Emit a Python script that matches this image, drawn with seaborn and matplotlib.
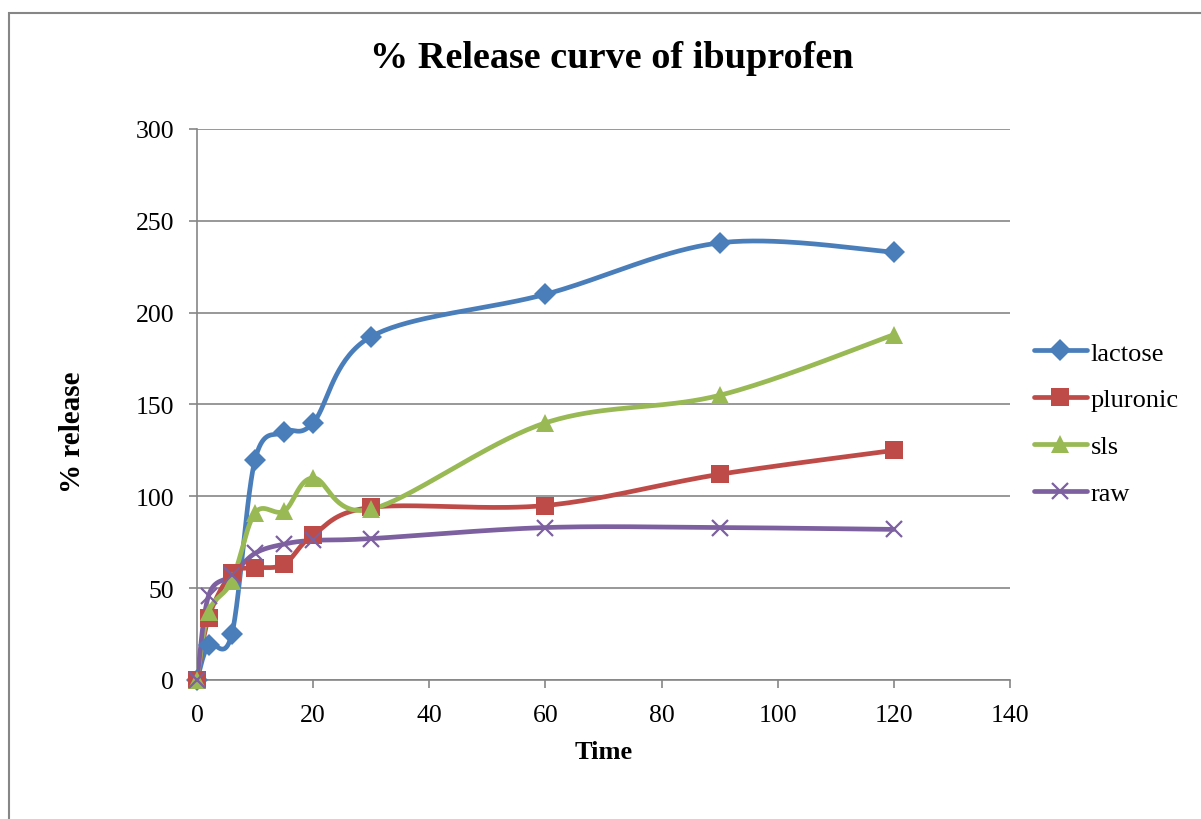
import numpy as np
import pandas as pd
import matplotlib
matplotlib.use("Agg")
import matplotlib.pyplot as plt
import seaborn as sns
from matplotlib.lines import Line2D
from matplotlib.patches import Rectangle

# ---- data ----
time = [0, 2, 6, 10, 15, 20, 30, 60, 90, 120]
lactose = [0, 19, 25, 120, 135, 140, 187, 210, 238, 233]
pluronic = [0, 34, 58, 61, 63, 79, 94, 95, 112, 125]
sls = [0, 37, 54, 91, 92, 110, 93, 140, 155, 188]
raw = [0, 46, 57, 69, 74, 76, 77, 83, 83, 82]
series_names = ["lactose", "pluronic", "sls", "raw"]
series_values = [lactose, pluronic, sls, raw]
x_ticks = [0, 20, 40, 60, 80, 100, 120, 140]
y_ticks = [0, 50, 100, 150, 200, 250, 300]

colors = {"lactose": "#4A7EBB", "pluronic": "#BE4B48", "sls": "#98B954", "raw": "#7D60A0"}
markers = {"lactose": "D", "pluronic": "s", "sls": "^", "raw": "x"}
msizes = {"lactose": 11.5, "pluronic": 12.5, "sls": 13, "raw": 12}

# Excel-style smoothing (Catmull-Rom Bezier in screen scale)
SX, SY = 5.807, 1.8367


def smooth(xs, ys, n=40):
    P = np.column_stack([np.asarray(xs, float) * SX, np.asarray(ys, float) * SY])
    out = []
    m = len(P)
    for i in range(m - 1):
        p0 = P[max(i - 1, 0)]
        p1 = P[i]
        p2 = P[i + 1]
        p3 = P[min(i + 2, m - 1)]
        c1 = p1 + (p2 - p0) / 6.0
        c2 = p2 - (p3 - p1) / 6.0
        t = np.linspace(0, 1, n)[:, None]
        seg = ((1 - t) ** 3) * p1 + 3 * ((1 - t) ** 2) * t * c1 + 3 * (1 - t) * t ** 2 * c2 + t ** 3 * p2
        if i > 0:
            seg = seg[1:]
        out.append(seg)
    S = np.vstack(out)
    return S[:, 0] / SX, S[:, 1] / SY


rows = []
pts = []
for name, vals in zip(series_names, series_values):
    sx, sy = smooth(time, vals)
    for k, (a, b) in enumerate(zip(sx, sy)):
        rows.append({"Time": a, "release": b, "series": name, "order": k})
    for a, b in zip(time, vals):
        pts.append({"Time": a, "release": b, "series": name})
curves = pd.DataFrame(rows)
points = pd.DataFrame(pts)

sns.set_theme(style="white")
plt.rcParams["font.family"] = ["Liberation Serif", "DejaVu Serif"]
plt.rcParams["text.color"] = "black"
plt.rcParams["axes.labelcolor"] = "black"

fig = plt.figure(figsize=(12.01, 8.2), dpi=100)
ax = fig.add_axes([197 / 1201, 1 - 681 / 820, (1010 - 197) / 1201, (681 - 130) / 820])

sns.lineplot(data=curves, x="Time", y="release", hue="series", hue_order=series_names,
             palette=colors, sort=False, estimator=None, units="series", linewidth=3.4,
             legend=False, ax=ax, zorder=3)
for name in series_names:
    sub = points[points["series"] == name]
    if markers[name] == "x":
        ax.plot(sub["Time"], sub["release"], linestyle="none", marker="x", color=colors[name],
                markersize=msizes[name], markeredgewidth=1.6, zorder=4, clip_on=False)
    else:
        ax.plot(sub["Time"], sub["release"], linestyle="none", marker=markers[name],
                color=colors[name], markersize=msizes[name], markeredgewidth=0, zorder=4,
                clip_on=False)

ax.set_xlim(0, 140)
ax.set_ylim(0, 300)
ax.set_xticks(x_ticks)
ax.set_yticks(y_ticks)
ax.tick_params(axis="both", labelsize=18.5, colors="#868686", labelcolor="black",
               direction="out", length=5.5, width=1.2)
ax.tick_params(axis="x", bottom=True, pad=12)
ax.tick_params(axis="y", left=True, pad=11)
ax.grid(axis="y", color="#868686", linewidth=1.2)
ax.grid(axis="x", visible=False)
for s in ["top", "right"]:
    ax.spines[s].set_visible(False)
for s in ["left", "bottom"]:
    ax.spines[s].set_color("#868686")
    ax.spines[s].set_linewidth(1.2)
ax.set_axisbelow(True)

ax.set_xlabel("Time", fontsize=19, fontweight="bold")
ax.set_ylabel("% release", fontsize=21, fontweight="bold")
ax.xaxis.set_label_coords(0.5, -(753 - 681) / 551, transform=ax.transAxes)
ax.yaxis.set_label_coords(-(197 - 72) / 813, (681 - 432) / 551, transform=ax.transAxes)
ax.xaxis.label.set_va("center")
ax.yaxis.label.set_va("center")
fig.text(612 / 1201, 1 - 59 / 820, "% Release curve of ibuprofen", ha="center", va="center",
         fontsize=27.5, fontweight="bold")

handles = []
for name in series_names:
    if markers[name] == "x":
        h = Line2D([0], [0], color=colors[name], linewidth=3.4, marker="x",
                   markersize=msizes[name], markeredgewidth=1.6, solid_capstyle="round")
    else:
        h = Line2D([0], [0], color=colors[name], linewidth=3.4, marker=markers[name],
                   markersize=msizes[name], markeredgewidth=0, solid_capstyle="round")
    handles.append(h)
fig.legend(handles, series_names, loc="center left", bbox_to_anchor=(1010 / 1201, 1 - 424 / 820),
           frameon=False, fontsize=19, handlelength=2.0, handletextpad=0.15, labelspacing=0.88)

fig.patches.append(Rectangle((9 / 1201, -0.05), 1.2, 1 - 14 / 820 + 0.05, transform=fig.transFigure,
                             fill=False, edgecolor="#868686", linewidth=1.5, zorder=0))

fig.savefig("out.png", dpi=100)
